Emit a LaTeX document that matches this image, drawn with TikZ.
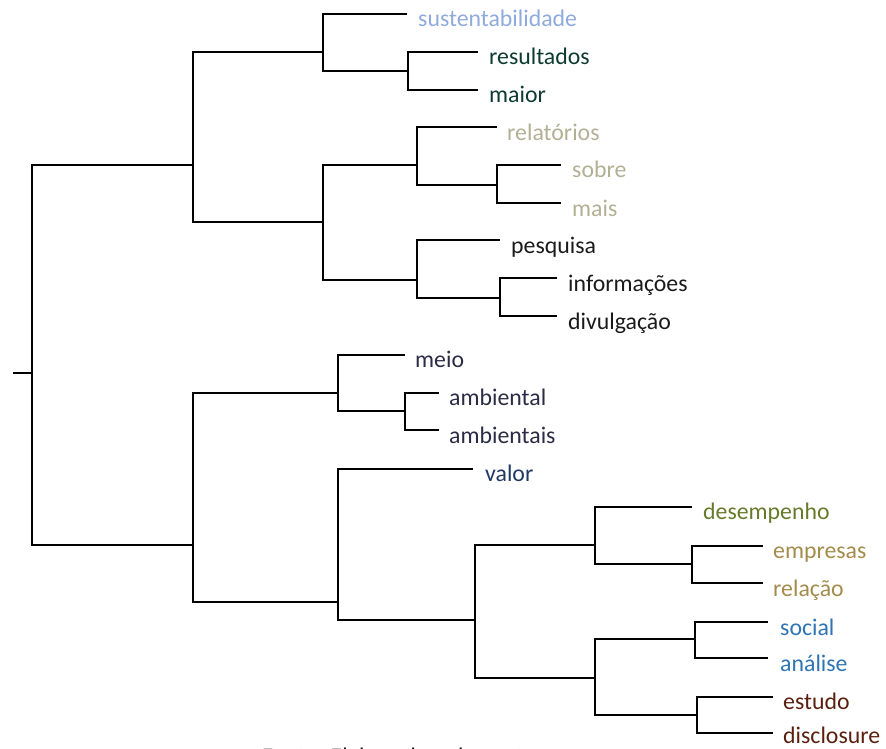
\documentclass[tikz,border=0pt]{standalone}
\usepackage{fontspec}
\setmainfont{Carlito}
\definecolor{cSust}{HTML}{8FAADC}
\definecolor{cRes}{HTML}{0E3B30}
\definecolor{cRel}{HTML}{B2B094}
\definecolor{cPes}{HTML}{1A1A1A}
\definecolor{cMeio}{HTML}{2B2B45}
\definecolor{cVal}{HTML}{203864}
\definecolor{cDes}{HTML}{667A2A}
\definecolor{cEmp}{HTML}{A38B4B}
\definecolor{cSoc}{HTML}{2E74B5}
\definecolor{cEst}{HTML}{5B1F0F}
\begin{document}
\begin{tikzpicture}[x=1pt,y=-1pt,
  branch/.style={line width=2.9pt,black},
  lbl/.style={anchor=base west,inner sep=0pt,font=\fontsize{23.8}{26}\selectfont}]
\useasboundingbox (0,0) rectangle (886,749);
% junctions
\coordinate (R0) at (13,373);
\coordinate (R) at (32,373);
\coordinate (A) at (193,165);
\coordinate (A1) at (323,52);
\coordinate (A11) at (408,71);
\coordinate (A2) at (323,222);
\coordinate (A21) at (417,165);
\coordinate (A211) at (497,185);
\coordinate (A22) at (417,280);
\coordinate (A221) at (500,298);
\coordinate (B) at (193,545);
\coordinate (B1) at (338,393);
\coordinate (B11) at (405,411);
\coordinate (B2) at (338,602);
\coordinate (B21) at (475,620);
\coordinate (B211) at (595,545);
\coordinate (B2111) at (692,564);
\coordinate (B212) at (595,678);
\coordinate (B2121) at (695,639);
\coordinate (B2122) at (697,715);
% leaf ends
\coordinate (eSust) at (407,14);
\coordinate (eRes) at (478,52);
\coordinate (eMai) at (478,90);
\coordinate (eRel) at (497,127);
\coordinate (eSob) at (561,165);
\coordinate (eMais) at (561,203);
\coordinate (ePes) at (500,240);
\coordinate (eInf) at (557,278);
\coordinate (eDiv) at (557,316);
\coordinate (eMeio) at (405,355);
\coordinate (eAmb) at (439,393);
\coordinate (eAmbs) at (439,430);
\coordinate (eVal) at (473,469);
\coordinate (eDes) at (692,507);
\coordinate (eEmp) at (763,546);
\coordinate (eRelc) at (763,583);
\coordinate (eSoc) at (768,622);
\coordinate (eAna) at (768,658);
\coordinate (eEst) at (773,697);
\coordinate (eDis) at (773,733);
% labels
\node[lbl,text=cSust] (sust) at (418,27) {sustentabilidade};
\node[lbl,text=cRes] (res) at (489,65) {resultados};
\node[lbl,text=cRes] (mai) at (489,103) {maior};
\node[lbl,text=cRel] (rel) at (507,140) {relatórios};
\node[lbl,text=cRel] (sob) at (572,178) {sobre};
\node[lbl,text=cRel] (mais) at (572,216) {mais};
\node[lbl,text=cPes] (pes) at (511,253) {pesquisa};
\node[lbl,text=cPes] (inf) at (568,291) {informações};
\node[lbl,text=cPes] (div) at (568,329) {divulgação};
\node[lbl,text=cMeio] (meio) at (415,367) {meio};
\node[lbl,text=cMeio] (amb) at (449,405) {ambiental};
\node[lbl,text=cMeio] (ambs) at (449,443) {ambientais};
\node[lbl,text=cVal] (val) at (485,481) {valor};
\node[lbl,text=cDes] (des) at (703,519) {desempenho};
\node[lbl,text=cEmp] (emp) at (773,558) {empresas};
\node[lbl,text=cEmp] (relc) at (773,596) {relação};
\node[lbl,text=cSoc] (soc) at (780,635) {social};
\node[lbl,text=cSoc] (ana) at (780,671) {análise};
\node[lbl,text=cEst] (est) at (783,709) {estudo};
\node[lbl,text=cEst] (dis) at (783,743) {disclosure};
\node[lbl,text=cPes] (fonte) at (262,764) {Fonte: Elaborado pelos autores};
% branches
\draw[branch] (R0) -- (R);
\draw[branch] (R) |- (A);
\draw[branch] (R) |- (B);
\draw[branch] (A) |- (A1);
\draw[branch] (A) |- (A2);
\draw[branch] (A1) |- (eSust);
\draw[branch] (A1) |- (A11);
\draw[branch] (A11) |- (eRes);
\draw[branch] (A11) |- (eMai);
\draw[branch] (A2) |- (A21);
\draw[branch] (A2) |- (A22);
\draw[branch] (A21) |- (eRel);
\draw[branch] (A21) |- (A211);
\draw[branch] (A211) |- (eSob);
\draw[branch] (A211) |- (eMais);
\draw[branch] (A22) |- (ePes);
\draw[branch] (A22) |- (A221);
\draw[branch] (A221) |- (eInf);
\draw[branch] (A221) |- (eDiv);
\draw[branch] (B) |- (B1);
\draw[branch] (B) |- (B2);
\draw[branch] (B1) |- (eMeio);
\draw[branch] (B1) |- (B11);
\draw[branch] (B11) |- (eAmb);
\draw[branch] (B11) |- (eAmbs);
\draw[branch] (B2) |- (eVal);
\draw[branch] (B2) |- (B21);
\draw[branch] (B21) |- (B211);
\draw[branch] (B21) |- (B212);
\draw[branch] (B211) |- (eDes);
\draw[branch] (B211) |- (B2111);
\draw[branch] (B2111) |- (eEmp);
\draw[branch] (B2111) |- (eRelc);
\draw[branch] (B212) |- (B2121);
\draw[branch] (B212) |- (B2122);
\draw[branch] (B2121) |- (eSoc);
\draw[branch] (B2121) |- (eAna);
\draw[branch] (B2122) |- (eEst);
\draw[branch] (B2122) |- (eDis);
\end{tikzpicture}
\end{document}
